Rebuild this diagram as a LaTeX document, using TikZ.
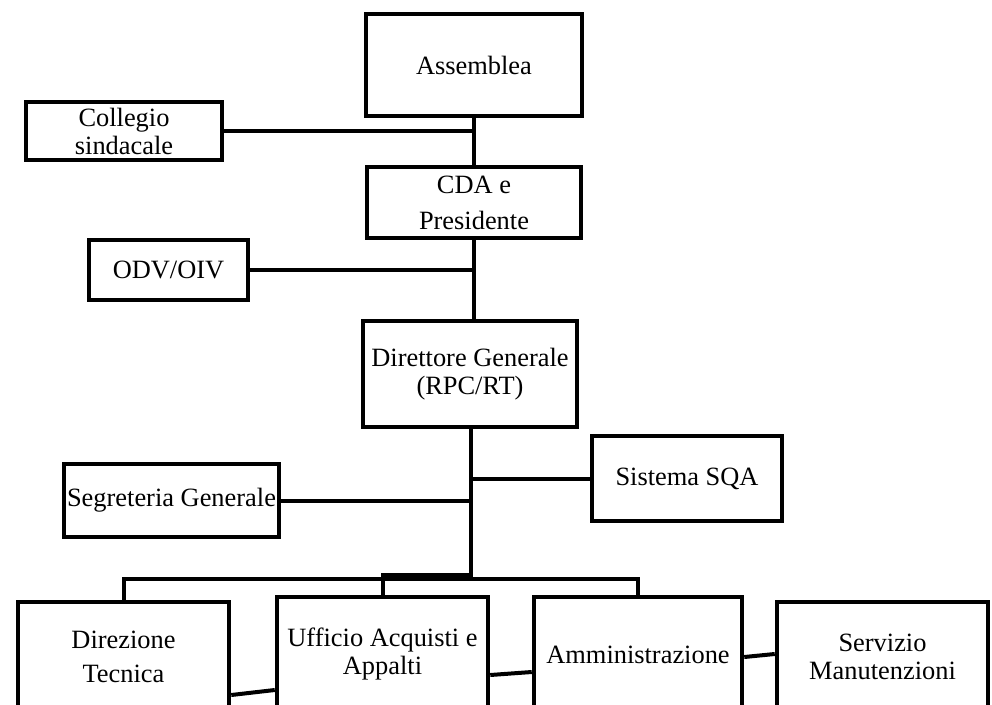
\documentclass[tikz,border=0pt]{standalone}
\usepackage{fontspec}
\setmainfont{Liberation Serif}
\usetikzlibrary{calc}

\begin{document}
\begin{tikzpicture}[x=1pt, y=-1pt,
  unit/.style={draw, line width=4.5pt, align=center, inner sep=0pt,
    font=\fontsize{26.4}{28}\selectfont},
  link/.style={line width=4pt}]

  \clip (0,0) rectangle (992,704);

  \node[unit, minimum width=216, minimum height=102] (assem) at (474,65) {Assemblea};
  \node[unit, minimum width=196, minimum height=58] (coll) at (124,131) {Collegio\\sindacale};
  \node[unit, minimum width=214, minimum height=71] (cda) at (474,202.5) {CDA e\\[8pt]Presidente};
  \node[unit, minimum width=159, minimum height=60] (odv) at (168.5,270) {ODV/OIV};
  \node[unit, minimum width=214, minimum height=106] (dg) at (470,374) {Direttore Generale\\(RPC/RT)};
  \node[unit, minimum width=190, minimum height=85] (sqa) at (687,478.5) {Sistema SQA};
  \node[unit, minimum width=215, minimum height=73] (segr) at (171.5,500.5) {Segreteria Generale};

  \node[unit, minimum width=211, minimum height=110] (dt) at (123.5,657) {Direzione\\[6pt]Tecnica};
  \node[unit, minimum width=211, minimum height=115] (uaa) at (382.5,654.5) {Ufficio Acquisti e\\Appalti};
  \node[unit, minimum width=208, minimum height=115] (amm) at (638,654.5) {Amministrazione};
  \node[unit, minimum width=211, minimum height=110] (sm) at (882.5,657) {Servizio\\Manutenzioni};

  % trunk
  \coordinate (bus) at (471,577);
  \draw[link] (assem.south) -- (cda.north);
  \draw[link] (cda.south) -- (cda.south |- dg.north);
  \draw[link] (dg.south -| bus) -- (bus);

  % staff offices
  \draw[link] (coll.east) -- (coll.east -| assem.south);
  \draw[link] (odv.east) -- (odv.east -| cda.south);
  \draw[link] (sqa.west) -- (sqa.west -| bus);
  \draw[link] (segr.east) -- (segr.east -| bus);

  % bus to the offices
  \draw[link] ([yshift=-2pt]bus) -| (dt.north);
  \draw[link] ([yshift=2pt]bus) -| (uaa.north);
  \draw[link] ([yshift=-2pt]bus) -| (amm.north);

  % links between the offices
  \draw[link] ([yshift=-38pt]dt.east) -- ([yshift=-35.5pt]uaa.west);
  \draw[link] ([yshift=-20.5pt]uaa.east) -- ([yshift=-17.5pt]amm.west);
  \draw[link] ([yshift=-2.5pt]amm.east) -- ([yshift=3pt]sm.west);
\end{tikzpicture}
\end{document}
